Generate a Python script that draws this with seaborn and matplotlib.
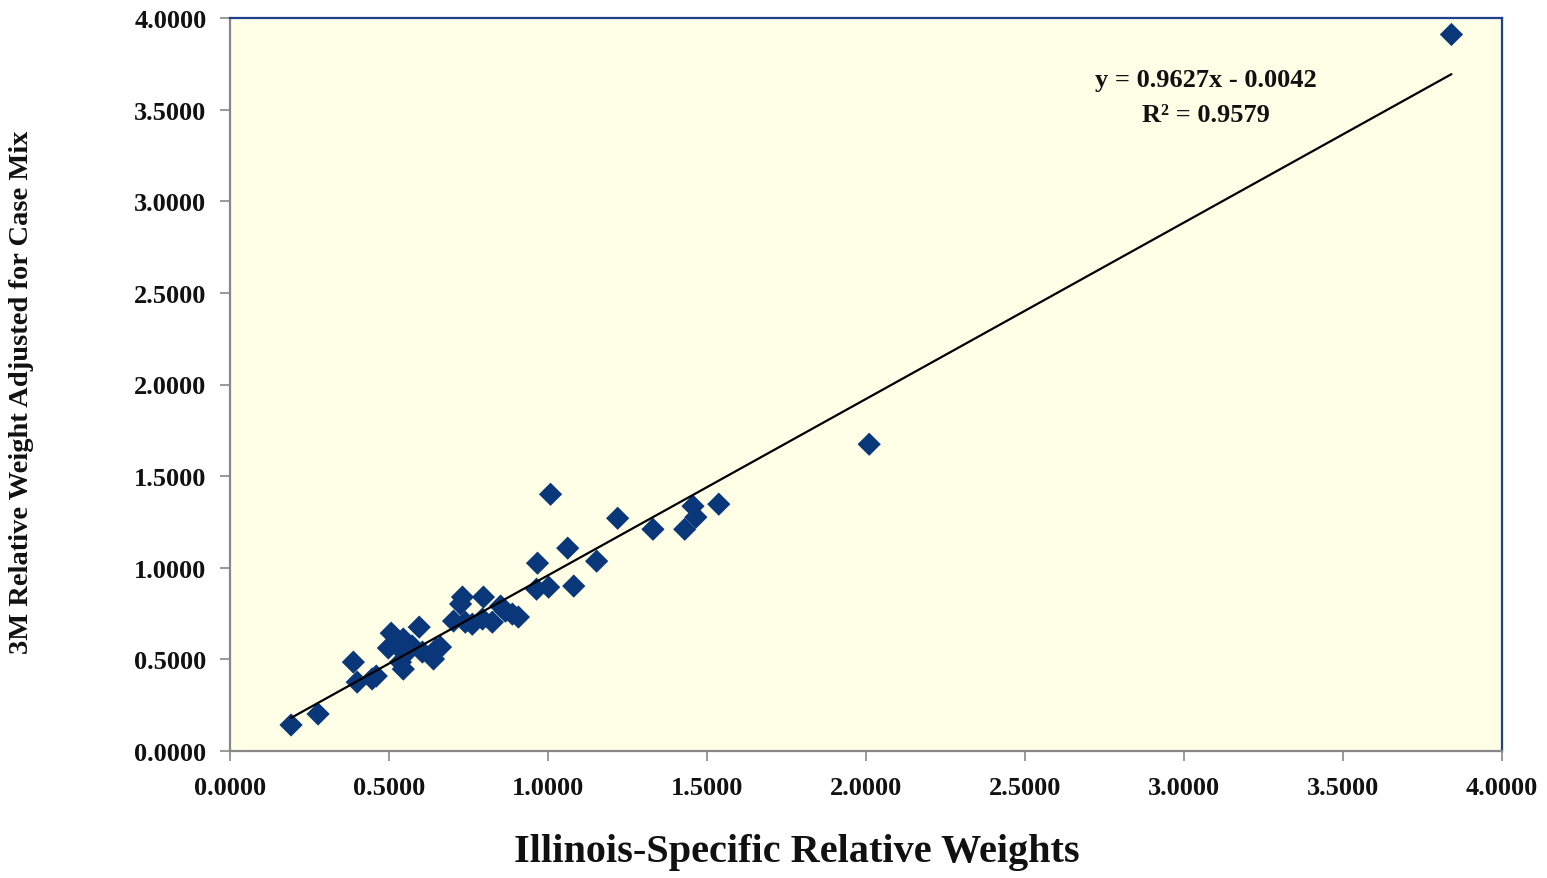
import numpy as np
import pandas as pd
import matplotlib
matplotlib.use("Agg")
import matplotlib.pyplot as plt
import seaborn as sns
from matplotlib.ticker import FormatStrFormatter

# Data
illinois_rw = [0.192, 0.277, 0.388, 0.400, 0.460, 0.447, 0.507, 0.498, 0.545, 0.551,
               0.545, 0.536, 0.595, 0.605, 0.640, 0.649, 0.662, 0.529, 0.573, 0.731,
               0.725, 0.703, 0.740, 0.797, 0.762, 0.794, 0.825, 0.851, 0.866, 0.888,
               0.907, 0.964, 1.002, 1.081, 0.967, 1.062, 1.153, 1.008, 1.219, 1.330,
               1.430, 1.456, 1.465, 1.537, 2.010, 3.841]
m3_rw = [0.142, 0.202, 0.485, 0.376, 0.409, 0.393, 0.643, 0.562, 0.611, 0.529,
         0.447, 0.485, 0.676, 0.540, 0.502, 0.556, 0.567, 0.583, 0.573, 0.840,
         0.802, 0.709, 0.703, 0.840, 0.692, 0.720, 0.703, 0.791, 0.763, 0.747,
         0.731, 0.883, 0.894, 0.900, 1.025, 1.107, 1.036, 1.401, 1.270, 1.210,
         1.210, 1.336, 1.276, 1.347, 1.674, 3.910]
slope = 0.9627
intercept = -0.0042
r_squared = 0.9579
tick_values = [0.0, 0.5, 1.0, 1.5, 2.0, 2.5, 3.0, 3.5, 4.0]

df = pd.DataFrame({"x": illinois_rw, "y": m3_rw})

sns.set_theme(style="ticks")
plt.rcParams["font.family"] = ["Liberation Serif", "DejaVu Serif"]
plt.rcParams["font.weight"] = "bold"

fig = plt.figure(figsize=(15.47, 8.79), dpi=100)
ax = fig.add_axes([230 / 1547, 1 - 752 / 879, 1272 / 1547, 733 / 879])
ax.set_facecolor("#FFFFE8")

sns.scatterplot(data=df, x="x", y="y", marker="D", s=140, color="#0A367A",
                edgecolor="none", linewidth=0, ax=ax, zorder=3)

xl = np.array([min(illinois_rw), max(illinois_rw)])
ax.plot(xl, slope * xl + intercept, color="black", lw=1.6, zorder=4)

ax.set_xlim(0, 4)
ax.set_ylim(0, 4)
ax.set_xticks(tick_values)
ax.set_yticks(tick_values)
ax.xaxis.set_major_formatter(FormatStrFormatter("%.4f"))
ax.yaxis.set_major_formatter(FormatStrFormatter("%.4f"))
ax.tick_params(axis="both", direction="out", length=7, width=1.2, color="#888888",
               labelsize=19, labelcolor="#111111")
ax.tick_params(axis="x", pad=11)
ax.tick_params(axis="y", pad=10)
for lab in ax.get_xticklabels() + ax.get_yticklabels():
    lab.set_fontweight("bold")

for side in ["left", "bottom"]:
    ax.spines[side].set_color("#888888")
    ax.spines[side].set_linewidth(1.6)
for side in ["top", "right"]:
    ax.spines[side].set_visible(True)
    ax.spines[side].set_color("#1F3F8F")
    ax.spines[side].set_linewidth(1.6)

ax.set_xlabel("")
ax.set_ylabel("")
fig.text(797 / 1547, 1 - 853 / 879, "Illinois-Specific Relative Weights", fontsize=29,
         fontweight="bold", color="#111111", ha="center", va="center")
fig.text(22 / 1547, 1 - 392 / 879, "3M Relative Weight Adjusted for Case Mix", fontsize=20.5,
         fontweight="bold", color="#111111", ha="center", va="center", rotation=90)

ax.text(3.07, 3.662, f"y = {slope:.4f}x - {abs(intercept):.4f}", fontsize=19,
        fontweight="bold", ha="center", va="center", color="#111111")
ax.text(3.07, 3.471, f"R² = {r_squared:.4f}", fontsize=19,
        fontweight="bold", ha="center", va="center", color="#111111")

fig.savefig("out.png", dpi=100, facecolor="white")
